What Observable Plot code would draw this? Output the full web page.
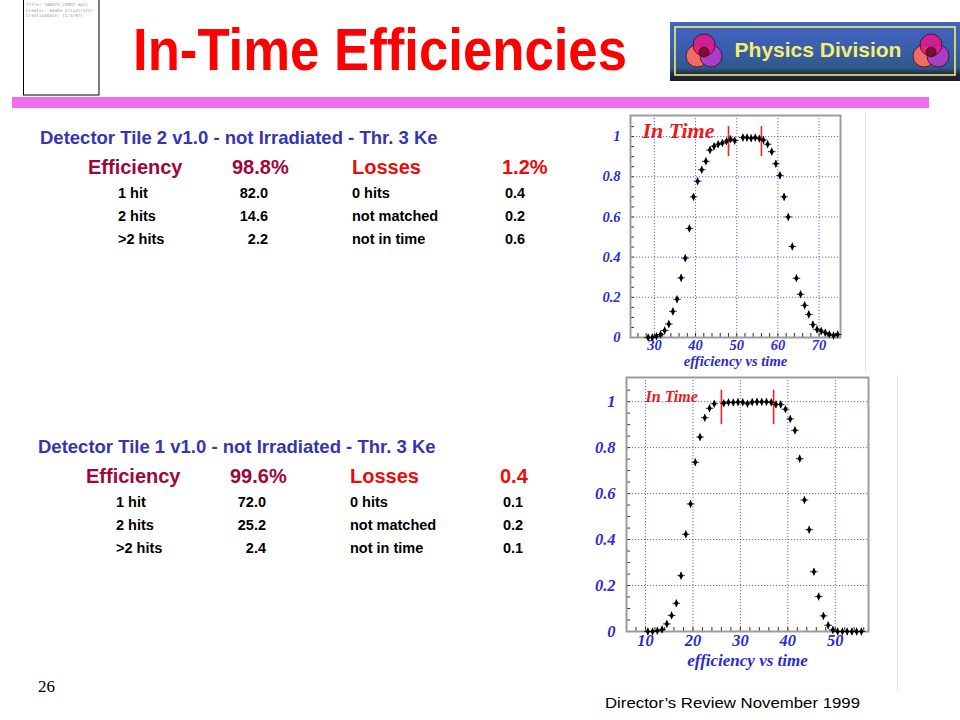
<!DOCTYPE html>
<html>
<head>
<meta charset="utf-8">
<script src="https://cdn.jsdelivr.net/npm/d3@7"></script>
<script src="https://cdn.jsdelivr.net/npm/@observablehq/plot@0.6"></script>
<style>
html,body{margin:0;padding:0;background:#fff;}
#slide{position:relative;width:960px;height:720px;overflow:hidden;font-family:Arial,"Liberation Sans",sans-serif;}
#bg{position:absolute;left:0;top:0;}
.plot{position:absolute;}
</style>
</head>
<body>
<div id="slide">
  <svg id="bg" width="960" height="720"></svg>
  <div id="p1" class="plot" style="left:580px;top:110px"></div>
  <div id="p2" class="plot" style="left:580px;top:372px"></div>
</div>
<script>
// ---------- slide text ----------
const slideTitle = "In-Time Efficiencies";
const logoText = "Physics Division";
const pageNumber = "26";
const footerText = "Director\u2019s Review November 1999";
const epsInfo = ["Title:   (WAATS_LOREC.eps)", "Creator:  Adobe Illustrator", "CreationDate:  (1/3/97)"];

const tileHeaders = ["Detector Tile 2 v1.0 - not Irradiated - Thr. 3 Ke", "Detector Tile 1 v1.0 - not Irradiated - Thr. 3 Ke"];
const efficiencyTotals = ["98.8%", "99.6%"];
const lossTotals = ["1.2%", "0.4"];
const hitCategories = ["1 hit", "2 hits", ">2 hits"];
const hitShares = [["82.0", "14.6", "2.2"], ["72.0", "25.2", "2.4"]];
const lossCategories = ["0 hits", "not matched", "not in time"];
const lossShares = [["0.4", "0.2", "0.6"], ["0.1", "0.2", "0.1"]];

// ---------- plot data: efficiency vs time ----------
const tile2Time = [28.5, 29.5, 30.5, 31.5, 32.5, 33.5, 34.5, 35.5, 36.5, 37.5, 38.5, 39.5, 40.5, 41.5, 42.5, 43.5, 44.5, 45.5, 46.5, 47.5, 48.5, 49.5, 51.5, 52.5, 53.5, 54.5, 55.5, 56.5, 57.5, 58.5, 59.5, 60.5, 61.5, 62.5, 63.5, 64.5, 65.5, 66.5, 67.5, 68.5, 69.5, 70.5, 71.5, 72.5, 73.5, 74.5];
const tile2Eff = [0, 0, 0.006, 0.015, 0.035, 0.067, 0.13, 0.19, 0.297, 0.395, 0.543, 0.70, 0.778, 0.835, 0.877, 0.933, 0.952, 0.962, 0.968, 0.977, 0.987, 0.98, 0.995, 0.995, 0.992, 0.995, 0.99, 0.983, 0.962, 0.925, 0.865, 0.807, 0.70, 0.60, 0.453, 0.295, 0.215, 0.16, 0.115, 0.064, 0.04, 0.032, 0.024, 0.016, 0.01, 0.015];
const tile2InTime = [48, 56];
const tile2Ticks = [30, 40, 50, 60, 70];

const tile1Time = [10.5, 11.5, 12.5, 13.5, 14.5, 15.5, 16.5, 17.5, 18.5, 19.5, 20.5, 21.5, 22.5, 23.5, 24.5, 26.5, 27.5, 28.5, 29.5, 30.5, 31.5, 32.5, 33.5, 34.5, 35.5, 36.5, 37.5, 38.5, 39.5, 40.5, 41.5, 42.5, 43.5, 44.5, 45.5, 46.5, 47.5, 48.5, 49.5, 50.5, 51.5, 52.5, 53.5, 54.5, 55.5];
const tile1Eff = [0, 0, 0.003, 0.009, 0.033, 0.07, 0.123, 0.243, 0.423, 0.555, 0.736, 0.846, 0.93, 0.971, 0.991, 0.993, 0.997, 0.996, 0.998, 0.997, 0.991, 0.998, 0.999, 0.999, 0.999, 0.997, 0.988, 0.988, 0.967, 0.925, 0.875, 0.752, 0.572, 0.443, 0.26, 0.152, 0.068, 0.027, 0.007, 0, 0, 0, 0, 0, 0];
const tile1InTime = [26, 37];
const tile1Ticks = [10, 20, 30, 40, 50];

const effTicks = [0, 0.2, 0.4, 0.6, 0.8, 1];
const effMinorTicks = d3.range(0, 22).map(i => i * 0.05);

// ---------- background slide ----------
const sans = "Arial, 'Liberation Sans', sans-serif";
const serif = "'Liberation Serif', 'Times New Roman', serif";
const bg = d3.select("#bg");
const defs = bg.append("defs");
const grad = defs.append("linearGradient").attr("id", "logoGrad").attr("x1", 0).attr("y1", 0).attr("x2", 0).attr("y2", 1);
[["0%", "#4166c4"], ["50%", "#3a5caa"], ["78%", "#2f5a86"], ["88%", "#222a48"], ["100%", "#1c1c2c"]]
  .forEach(([o, c]) => grad.append("stop").attr("offset", o).attr("stop-color", c));

// eps placeholder box
bg.append("rect").attr("x", 23.5).attr("y", -2).attr("width", 75.5).attr("height", 97).attr("fill", "#fff").attr("stroke", "#000").attr("stroke-width", 1);
bg.append("g").selectAll("text").data(epsInfo).join("text")
  .attr("x", 26).attr("y", (d, i) => 6 + i * 5.5)
  .attr("font-family", "'DejaVu Sans Mono', monospace").attr("font-size", 4.3).attr("fill", "#999")
  .text(d => d);

// title
bg.append("text").attr("x", 133).attr("y", 70)
  .attr("font-family", sans).attr("font-weight", "bold").attr("font-size", 60)
  .attr("fill", "#ff0000").attr("textLength", 494).attr("lengthAdjust", "spacingAndGlyphs")
  .text(slideTitle);

// pink bar
bg.append("rect").attr("x", 12).attr("y", 97).attr("width", 917).attr("height", 11).attr("fill", "#f06cf0");

// logo
bg.append("rect").attr("x", 670).attr("y", 22).attr("width", 290).attr("height", 59).attr("fill", "url(#logoGrad)");
bg.append("rect").attr("x", 675).attr("y", 27).attr("width", 280).attr("height", 48).attr("fill", "none").attr("stroke", "#f2ee6a").attr("stroke-width", 1.6);
bg.append("text").attr("x", 818).attr("y", 57).attr("text-anchor", "middle")
  .attr("font-family", sans).attr("font-weight", "bold").attr("font-size", 21)
  .attr("fill", "#f4f06a").text(logoText);
function venn(cx, cy) {
  const g = bg.append("g").attr("stroke", "#3a0a20").attr("stroke-width", 0.8);
  g.append("circle").attr("cx", cx - 7).attr("cy", cy + 5).attr("r", 11).attr("fill", "#f26a66");
  g.append("circle").attr("cx", cx + 7).attr("cy", cy + 5).attr("r", 11).attr("fill", "#b43ccc").attr("fill-opacity", 0.9);
  g.append("circle").attr("cx", cx).attr("cy", cy - 6).attr("r", 11).attr("fill", "#e8168c").attr("fill-opacity", 0.85);
  g.append("circle").attr("cx", cx).attr("cy", cy + 1).attr("r", 5).attr("fill", "#7a0c36");
}
venn(704, 51);
venn(931, 51);

// text blocks
const blockDy = [0, 309];
const blockDx = [0, -2];
tileHeaders.forEach((h, b) => {
  const g = bg.append("g").attr("transform", `translate(${blockDx[b]},${blockDy[b]})`)
    .attr("font-family", sans).attr("font-weight", "bold");
  g.append("text").attr("x", 40).attr("y", 144).attr("font-size", 18.5).attr("fill", "#3535b0").text(h);
  g.append("text").attr("x", 88).attr("y", 174).attr("font-size", 20).attr("fill", "#a0063a").text("Efficiency");
  g.append("text").attr("x", 232).attr("y", 174).attr("font-size", 20).attr("fill", "#a0063a").text(efficiencyTotals[b]);
  g.append("text").attr("x", 352).attr("y", 174).attr("font-size", 20).attr("fill", "#ee0a0a").text("Losses");
  g.append("text").attr("x", 502).attr("y", 174).attr("font-size", 20).attr("fill", "#ee0a0a").text(lossTotals[b]);
  hitCategories.forEach((c, i) => {
    const y = 198 + i * 23;
    g.append("text").attr("x", 118).attr("y", y).attr("font-size", 14.5).attr("fill", "#000").text(c);
    g.append("text").attr("x", 268).attr("y", y).attr("text-anchor", "end").attr("font-size", 14.5).attr("fill", "#000").text(hitShares[b][i]);
    g.append("text").attr("x", 352).attr("y", y).attr("font-size", 14.5).attr("fill", "#000").text(lossCategories[i]);
    g.append("text").attr("x", 505).attr("y", y).attr("font-size", 14.5).attr("fill", "#000").text(lossShares[b][i]);
  });
});

// image border lines
bg.append("line").attr("x1", 865.5).attr("x2", 865.5).attr("y1", 112).attr("y2", 372).attr("stroke", "#e2e2e2");
bg.append("line").attr("x1", 897.5).attr("x2", 897.5).attr("y1", 375).attr("y2", 690).attr("stroke", "#e2e2e2");

// footer
bg.append("text").attr("x", 38).attr("y", 692).attr("font-family", serif).attr("font-size", 17).attr("fill", "#000").text(pageNumber);
bg.append("text").attr("x", 605).attr("y", 708).attr("font-family", sans).attr("font-size", 15)
  .attr("fill", "#000").attr("textLength", 255).attr("lengthAdjust", "spacingAndGlyphs").text(footerText);

// ---------- plots ----------
const axisBlue = "#2a2ad6";
const gridBlue = "#4848ee";

function effPlot(cfg) {
  const points = cfg.time.map((t, i) => ({t, e: cfg.eff[i]}));
  const xMinor = d3.range(Math.ceil(cfg.domain[0] / 2) * 2, cfg.domain[1], 2);
  return Plot.plot({
    width: cfg.width, height: cfg.height,
    marginLeft: cfg.ml, marginRight: cfg.mr, marginTop: cfg.mt, marginBottom: cfg.mb,
    style: {background: "transparent", overflow: "visible"},
    x: {domain: cfg.domain, label: null},
    y: {domain: [0, 1.105], label: null},
    marks: [
      Plot.gridX(cfg.ticks, {stroke: gridBlue, strokeOpacity: 0.85, strokeDasharray: "1.2,1.8", strokeWidth: 1}),
      Plot.gridY(effTicks.slice(1), {stroke: gridBlue, strokeOpacity: 0.85, strokeDasharray: "1.2,1.8", strokeWidth: 1}),
      Plot.axisY(effMinorTicks, {tickSize: -4, text: null, stroke: "#333", label: null}),
      Plot.axisX(xMinor, {tickSize: -4, text: null, stroke: "#333", label: null}),
      Plot.axisX(cfg.ticks, {tickSize: 0, tickPadding: cfg.padX, fontSize: cfg.fs, fontWeight: "bold", fontStyle: "italic", fontFamily: serif, color: axisBlue, label: null}),
      Plot.axisY(effTicks, {tickSize: 0, tickPadding: cfg.padY, tickFormat: d => String(d), fontSize: cfg.fs, fontWeight: "bold", fontStyle: "italic", fontFamily: serif, color: axisBlue, label: null}),
      Plot.frame({stroke: "#9c9c9c", strokeWidth: 2}),
      Plot.ruleX(cfg.inTime, {y1: 0.9, y2: 1.05, stroke: "#ee2222", strokeWidth: 1.6}),
      Plot.dot(points, {x: "t", y: "e", symbol: "plus", r: 2.6, stroke: "#000", strokeWidth: 0.8}),
      Plot.dot(points, {x: "t", y: "e", symbol: "diamond", r: 2.3, fill: "#000"}),
      Plot.text(["In Time"], {frameAnchor: "top-left", text: d => d, dx: cfg.itDx, dy: cfg.itDy, textAnchor: "start", lineAnchor: "bottom",
        fontSize: cfg.itFs, fontWeight: "bold", fontStyle: "italic", fontFamily: serif, fill: "#ee1a1a"}),
      Plot.text(["efficiency vs time"], {frameAnchor: "bottom", text: d => d, dy: cfg.labelDy, lineAnchor: "middle",
        fontSize: cfg.lfs, fontWeight: "bold", fontStyle: "italic", fontFamily: serif, fill: axisBlue})
    ]
  });
}

document.getElementById("p1").append(effPlot({
  time: tile2Time, eff: tile2Eff, inTime: tile2InTime, ticks: tile2Ticks,
  domain: [24.2, 75.2], width: 290, height: 262, ml: 50, mr: 30, mt: 5, mb: 35,
  fs: 14.5, padX: 2.5, padY: 10, itDx: 12, itDy: 22, itFs: 22, lfs: 14.6, labelDy: 24
}));

document.getElementById("p2").append(effPlot({
  time: tile1Time, eff: tile1Eff, inTime: tile1InTime, ticks: tile1Ticks,
  domain: [6, 57], width: 320, height: 300, ml: 46, mr: 32, mt: 5, mb: 41,
  fs: 16.5, padX: 3, padY: 11, itDx: 19, itDy: 24, itFs: 16, lfs: 17, labelDy: 29
}));
</script>
</body>
</html>
